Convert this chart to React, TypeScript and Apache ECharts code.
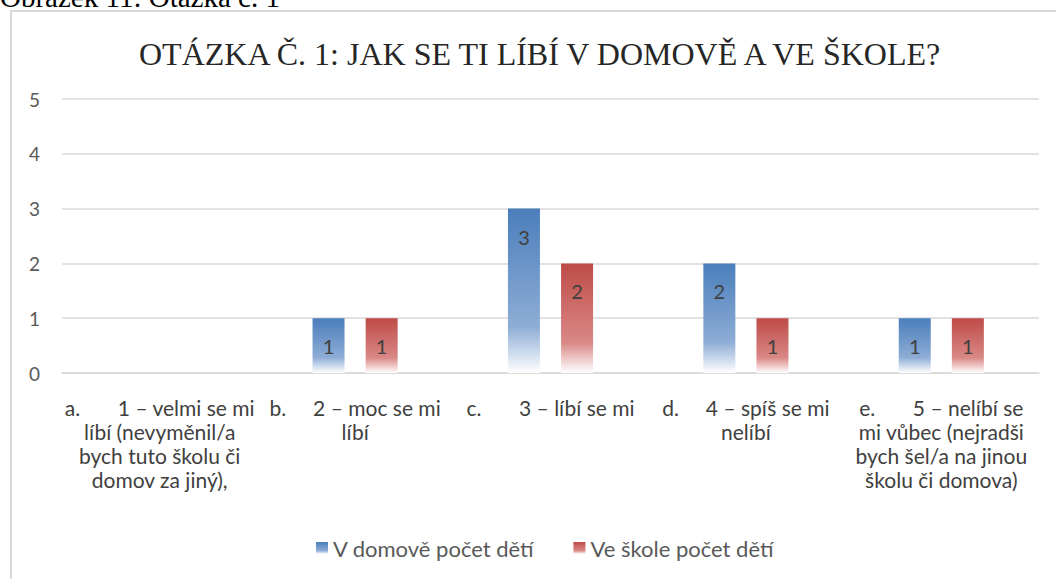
import React, { useEffect, useRef } from "react";
import * as echarts from "echarts";

const categories = [
  "a.       1 – velmi se mi\nlíbí (nevyměnil/a\nbych tuto školu či\ndomov za jiný),",
  "b.     2 – moc se mi\nlíbí",
  "c.       3 – líbí se mi",
  "d.     4 – spíš se mi\nnelíbí",
  "e.       5 – nelíbí se\nmi vůbec (nejradši\nbych šel/a na jinou\nškolu či domova)",
];
const seriesNames = ["V domově počet dětí", "Ve škole počet dětí"];
const domovValues = [0, 1, 3, 2, 1];
const skolaValues = [0, 1, 2, 1, 1];
const yTicks = [0, 1, 2, 3, 4, 5];
const titleText = "OTÁZKA Č. 1: JAK SE TI LÍBÍ V DOMOVĚ A VE ŠKOLE?";
const captionText = "Obrázek 11: Otázka č. 1";

const grad = (top: string, mid: string) =>
  new echarts.graphic.LinearGradient(0, 0, 0, 1, [
    { offset: 0, color: top },
    { offset: 0.72, color: mid },
    { offset: 1, color: "#ffffff" },
  ]);

export default function App() {
  const ref = useRef<HTMLDivElement>(null);
  useEffect(() => {
    if (!ref.current) return;
    const chart = echarts.init(ref.current, undefined, { renderer: "svg" });
    const labelStyle = {
      show: true,
      position: "insideTop",
      distance: 18,
      color: "#404040",
      fontSize: 20,
      fontFamily: "Lato",
      formatter: (p: any) => (p.value ? String(p.value) : ""),
    };
    chart.setOption({
      animation: false,
      backgroundColor: "#ffffff",
      title: {
        text: titleText,
        left: 134,
        top: 33,
        textStyle: {
          fontFamily: "Liberation Serif",
          fontWeight: "normal",
          fontSize: 32,
          color: "#262626",
        },
      },
      graphic: [
        {
          type: "rect",
          shape: { x: 11, y: 11, width: 1100, height: 700 },
          style: { fill: "none", stroke: "#d9d9d9", lineWidth: 2 },
          silent: true,
          z: -1,
        },
        {
          type: "text",
          x: 0,
          y: 11,
          style: {
            text: captionText,
            fontFamily: "Liberation Serif",
            fontSize: 29,
            fill: "#000000",
            verticalAlign: "bottom",
          },
        },
      ],
      legend: {
        left: 311,
        top: 532,
        itemWidth: 12,
        itemHeight: 12,
        itemGap: 39,
        icon: "rect",
        textStyle: { color: "#595959", fontSize: 22, fontFamily: "Lato" },
        data: seriesNames,
      },
      grid: { left: 62, right: 17, top: 99, bottom: 206 },
      xAxis: {
        type: "category",
        data: categories,
        axisLine: { lineStyle: { color: "#d9d9d9", width: 1.5 } },
        axisTick: { show: false },
        axisLabel: {
          interval: 0,
          color: "#404040",
          fontSize: 21,
          fontFamily: "Lato",
          lineHeight: 24,
          margin: 22,
          align: "center",
        },
      },
      yAxis: {
        type: "value",
        min: yTicks[0],
        max: yTicks[yTicks.length - 1],
        interval: 1,
        axisLine: { show: false },
        axisTick: { show: false },
        splitLine: { lineStyle: { color: "#d9d9d9", width: 1.5 } },
        axisLabel: {
          color: "#595959",
          fontSize: 19,
          fontFamily: "Lato",
          margin: 22,
        },
      },
      series: [
        {
          name: seriesNames[0],
          type: "bar",
          data: domovValues,
          barWidth: 32,
          barGap: "66%",
          itemStyle: { color: grad("#4a7ebb", "#8eadd6") },
          label: labelStyle,
        },
        {
          name: seriesNames[1],
          type: "bar",
          data: skolaValues,
          barWidth: 32,
          itemStyle: { color: grad("#be4b48", "#d98886") },
          label: labelStyle,
        },
      ],
    });
    return () => chart.dispose();
  }, []);
  return (
    <div
      ref={ref}
      style={{ position: "fixed", left: 0, top: 0, width: 1056, height: 579 }}
    />
  );
}
